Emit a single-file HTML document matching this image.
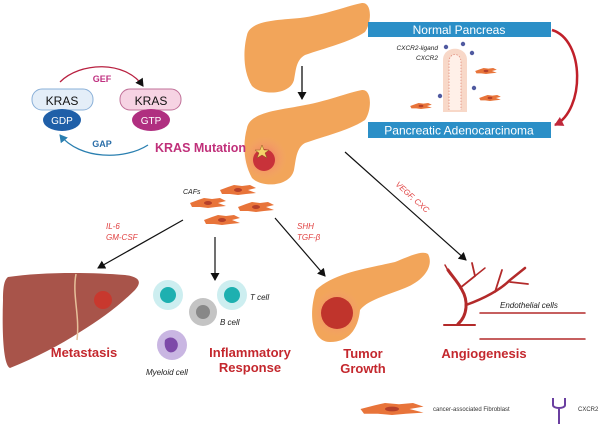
<!DOCTYPE html>
<html><head><meta charset="utf-8"><style>
body{margin:0;background:#fff}
svg{display:block}
text{font-family:"Liberation Sans",sans-serif}
</style></head><body>
<svg width="600" height="425" viewBox="0 0 600 425" xmlns="http://www.w3.org/2000/svg">
<defs>
<marker id="ah" markerUnits="userSpaceOnUse" markerWidth="9" markerHeight="9" refX="7" refY="4.5" orient="auto"><path d="M0,0 L8,4.5 L0,9 z" fill="#111"/></marker>
<marker id="ahr" markerUnits="userSpaceOnUse" markerWidth="10" markerHeight="10" refX="8" refY="5" orient="auto"><path d="M0,0 L9,5 L0,10 z" fill="#c0273a"/></marker>
<marker id="ahb" markerUnits="userSpaceOnUse" markerWidth="9" markerHeight="9" refX="7" refY="4.5" orient="auto"><path d="M0,0 L8,4.5 L0,9 z" fill="#2a7fb0"/></marker>
<radialGradient id="glow"><stop offset="0" stop-color="#f05060" stop-opacity=".7"/><stop offset="1" stop-color="#f7a08a" stop-opacity="0"/></radialGradient>
<g id="fib"><path d="M-18,0 L-10,-3 L-4,-5 L4,-4 L12,-5 L18,-2 L10,0 L18,3 L8,4 L0,5 L-8,4 L-16,4 Z" fill="#e8743a"/><ellipse cx="0" cy="0" rx="4" ry="2" fill="#b5402a"/></g>
</defs>

<!-- pancreas top -->
<path d="M247,35 C250,20 280,20 300,18 C325,15 350,5 362,3 C372,2 372,22 365,32 C350,42 325,48 305,55 C296,60 296,70 294,80 C290,95 262,96 252,86 C243,72 243,50 247,35 Z" fill="#f2a55a"/>
<line x1="302" y1="66" x2="302" y2="99" stroke="#111" stroke-width="1.3" marker-end="url(#ah)"/>

<!-- pancreas 2 -->
<path d="M247,128 C250,112 280,110 300,106 C325,102 350,92 362,90 C372,89 372,110 365,120 C350,130 325,136 305,143 C296,148 296,160 294,170 C290,187 262,188 252,178 C243,162 243,142 247,128 Z" fill="#f2a55a"/>
<circle cx="265" cy="158" r="22" fill="url(#glow)"/>
<circle cx="264" cy="160" r="11" fill="#c8323a"/>
<path d="M262,145 l2,5 5,0 -4,3 2,5 -5,-3 -5,3 2,-5 -4,-3 5,0z" fill="#f5d36a" stroke="#8a5a20" stroke-width=".5"/>

<!-- Normal pancreas boxes -->
<rect x="368" y="22" width="183" height="15" fill="#2b8fc7"/>
<text x="459" y="34" font-size="12" fill="#fff" text-anchor="middle">Normal Pancreas</text>
<rect x="368" y="122" width="183" height="16" fill="#2b8fc7"/>
<text x="459" y="134.5" font-size="12" fill="#fff" text-anchor="middle">Pancreatic Adenocarcinoma</text>
<path d="M552,30 C585,40 585,110 555,125" stroke="#c0202a" stroke-width="2.5" fill="none" marker-end="url(#ahr)"/>
<!-- villus -->
<path d="M443,112 L443,60 C443,45 467,45 467,60 L467,112 Z" fill="#f8d8c8"/>
<path d="M449,110 L449,62 C449,52 461,52 461,62 L461,110" fill="#fff0e8" stroke="#e08a7a" stroke-width=".8" stroke-dasharray="1.5,1.5"/>
<g fill="#505aa0"><circle cx="446" cy="47" r="2.2"/><circle cx="463" cy="44" r="2.2"/><circle cx="472" cy="53" r="2.2"/><circle cx="474" cy="88" r="2.2"/><circle cx="440" cy="96" r="2.2"/></g>
<text x="438" y="50" font-size="6.5" font-style="italic" text-anchor="end" fill="#222">CXCR2-ligand</text>
<text x="438" y="60" font-size="6.5" font-style="italic" text-anchor="end" fill="#222">CXCR2</text>
<use href="#fib" transform="translate(486,71) scale(.6)"/>
<use href="#fib" transform="translate(490,98) scale(.6)"/>
<use href="#fib" transform="translate(421,106) scale(.6)"/>

<!-- KRAS cycle -->
<path d="M60,82 C80,62 125,60 143,86" stroke="#b82040" stroke-width="1.3" fill="none" marker-end="url(#ah)"/>
<path d="M148,145 C125,160 80,160 60,135" stroke="#2a7fb0" stroke-width="1.3" fill="none" marker-end="url(#ahb)"/>
<text x="102" y="82" font-size="9" font-weight="bold" fill="#c03080" text-anchor="middle">GEF</text>
<text x="102" y="147" font-size="9" font-weight="bold" fill="#2a6ea8" text-anchor="middle">GAP</text>
<rect x="32" y="89" width="61" height="21" rx="10" fill="#e4eef8" stroke="#8ab0d8"/>
<text x="62" y="105" font-size="12" text-anchor="middle" fill="#111">KRAS</text>
<ellipse cx="62" cy="120" rx="19" ry="11" fill="#1f5fa8"/>
<text x="62" y="124" font-size="10" text-anchor="middle" fill="#fff">GDP</text>
<rect x="120" y="89" width="61" height="21" rx="10" fill="#f6d3e3" stroke="#c07098"/>
<text x="151" y="105" font-size="12" text-anchor="middle" fill="#111">KRAS</text>
<ellipse cx="151" cy="120" rx="19" ry="11" fill="#b02f80"/>
<text x="151" y="124" font-size="10" text-anchor="middle" fill="#fff">GTP</text>
<text x="155" y="152" font-size="12.5" font-weight="bold" fill="#c0307a">KRAS Mutation</text>

<!-- CAFs -->
<text x="183" y="194" font-size="7" font-style="italic" fill="#222">CAFs</text>
<use href="#fib" transform="translate(238,190)"/>
<use href="#fib" transform="translate(208,203)"/>
<use href="#fib" transform="translate(256,207)"/>
<use href="#fib" transform="translate(222,220)"/>

<!-- arrows -->
<line x1="183" y1="220" x2="98" y2="268" stroke="#111" stroke-width="1.2" marker-end="url(#ah)"/>
<line x1="215" y1="237" x2="215" y2="280" stroke="#111" stroke-width="1.2" marker-end="url(#ah)"/>
<line x1="275" y1="218" x2="325" y2="276" stroke="#111" stroke-width="1.2" marker-end="url(#ah)"/>
<line x1="345" y1="152" x2="466" y2="260" stroke="#111" stroke-width="1.2" marker-end="url(#ah)"/>
<text x="106" y="229" font-size="8" font-style="italic" fill="#e04040">IL-6</text>
<text x="106" y="240" font-size="8" font-style="italic" fill="#e04040">GM-CSF</text>
<text x="297" y="229" font-size="8" font-style="italic" fill="#e04040">SHH</text>
<text x="297" y="240" font-size="8" font-style="italic" fill="#e04040">TGF-β</text>
<text x="0" y="0" font-size="8" font-style="italic" fill="#e04040" transform="translate(395,185) rotate(42)">VEGF, CXC</text>

<!-- liver -->
<path d="M8,277 C40,272 90,272 125,275 C140,277 142,282 135,290 C120,305 100,320 80,332 C60,345 35,358 10,368 C3,365 2,330 3,300 C3,288 4,280 8,277 Z" fill="#a8544a"/>
<path d="M76,274 C72,295 80,315 77,340" stroke="#e6c09a" stroke-width="1.5" fill="none"/>
<circle cx="103" cy="300" r="9" fill="#c8382e"/>

<!-- immune cells -->
<circle cx="168" cy="295" r="15" fill="#cdeef0"/><circle cx="168" cy="295" r="8" fill="#1eb0b0"/>
<circle cx="232" cy="295" r="15" fill="#cdeef0"/><circle cx="232" cy="295" r="8" fill="#1eb0b0"/>
<circle cx="203" cy="312" r="14" fill="#c4c4c4"/><circle cx="203" cy="312" r="7" fill="#888"/>
<circle cx="172" cy="345" r="15" fill="#c9b6e2"/><path d="M165,340 C172,333 182,342 176,350 C170,356 163,350 165,340Z" fill="#7d4aa8"/>
<text x="250" y="300" font-size="8" font-style="italic" fill="#222">T cell</text>
<text x="220" y="325" font-size="8" font-style="italic" fill="#222">B cell</text>
<text x="146" y="375" font-size="8" font-style="italic" fill="#222">Myeloid cell</text>

<!-- tumor growth pancreas -->
<path d="M316,290 C335,272 370,268 395,262 C410,256 422,250 428,254 C434,265 425,280 405,288 C385,296 368,300 360,310 C358,330 348,342 330,342 C312,342 308,315 316,290 Z" fill="#f2a55a"/>
<circle cx="337" cy="313" r="24" fill="url(#glow)"/>
<circle cx="337" cy="313" r="16" fill="#c0342c"/>

<!-- vessels -->
<g stroke="#b32a2a" fill="none" stroke-linecap="round">
<path d="M458,324 C468,315 468,300 462,290 C458,282 452,276 448,270" stroke-width="3"/>
<path d="M466,305 C485,298 500,290 510,280 L525,268" stroke-width="2.5"/>
<path d="M495,292 L502,270" stroke-width="1.8"/><path d="M510,282 L528,284" stroke-width="1.8"/>
<path d="M460,288 L475,276 L472,263" stroke-width="1.8"/><path d="M475,276 L485,268" stroke-width="1.5"/>
<path d="M450,274 L445,265" stroke-width="1.5"/>
<path d="M444,325 L475,325" stroke-width="2"/>
<path d="M480,313 L585,313" stroke-width="1.5"/><path d="M480,339 L585,339" stroke-width="1.5"/>
</g>
<text x="500" y="308" font-size="8" font-style="italic" fill="#222">Endothelial cells</text>

<!-- titles -->
<g font-size="13" font-weight="bold" fill="#c4282e" text-anchor="middle">
<text x="84" y="357">Metastasis</text>
<text x="250" y="357">Inflammatory</text><text x="250" y="372">Response</text>
<text x="363" y="358">Tumor</text><text x="363" y="373">Growth</text>
<text x="484" y="358">Angiogenesis</text>
</g>

<!-- legend -->
<use href="#fib" transform="translate(392,409) scale(1.75,1.2)"/>
<text x="433" y="411" font-size="6" fill="#333">cancer-associated Fibroblast</text>
<path d="M553,398 L553,405 C553,409 565,409 565,405 L565,398 M559,408 L559,424" stroke="#6a3fa0" stroke-width="2" fill="none"/>
<text x="578" y="411" font-size="6" fill="#333">CXCR2</text>
</svg>
</body></html>
